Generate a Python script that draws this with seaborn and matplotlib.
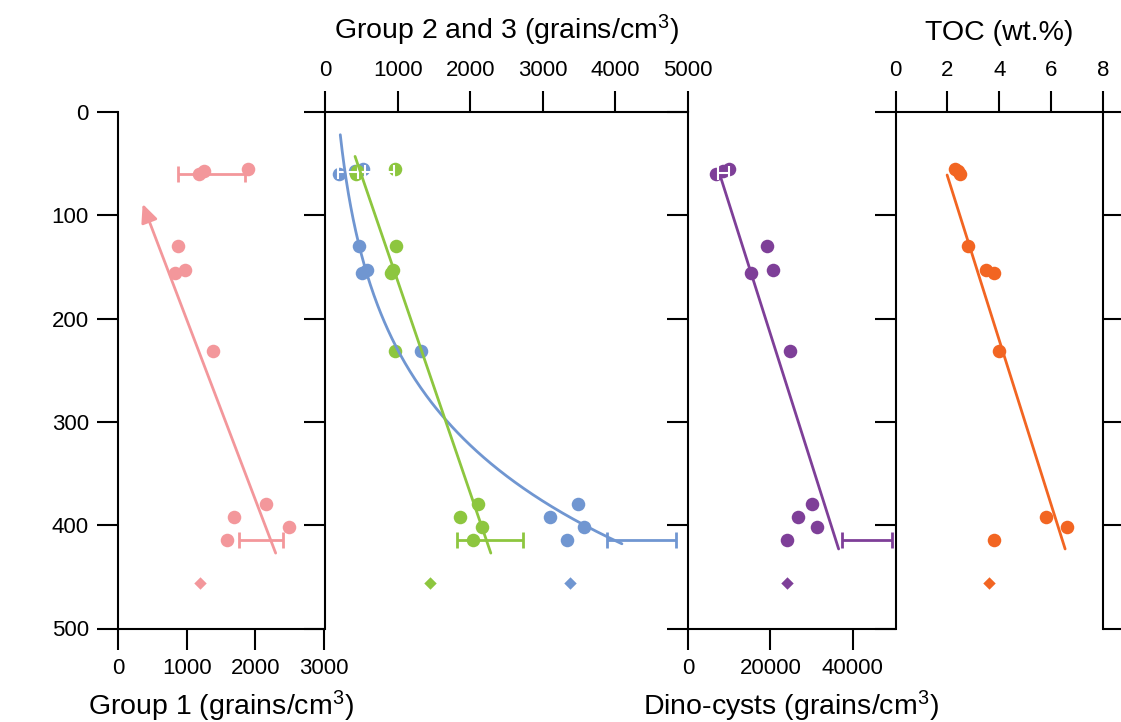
import numpy as np
import matplotlib
matplotlib.use("Agg")
import matplotlib.pyplot as plt
from matplotlib.ticker import MultipleLocator, FixedLocator
import seaborn as sns

# ---- station data (distance to the Orange River mouth, km) ----
distance_km = [55, 57, 60, 130, 153, 156, 231, 379, 392, 402, 414]
group1 = [1888, 1257, 1179, 878, 975, 830, 1378, 2150, 1689, 2490, 1592]
group2 = [519, 420, 197, 464, 574, 505, 1319, 3478, 3102, 3561, 3332]
group3 = [965, 446, 430, 974, 933, 910, 965, 2114, 1861, 2160, 2036]
dinocysts = [9927, 8571, 6707, 19056, 20678, 15351, 24867, 30194, 26634, 31332, 24068]
toc = [2.29, 2.42, 2.48, 2.80, 3.49, 3.80, 4.00, np.nan, 5.80, 6.60, 3.80]

# reference sample (diamonds)
ref_distance_km = [456]
ref_group1 = [1194]
ref_group2 = [3368]
ref_group3 = [1447]
ref_dinocysts = [24068]
ref_toc = [3.60]

# error bars: distance, mean, half-range
g1_err_dist = [60, 414]
g1_err_mean = [1363, 2087]
g1_err_half = [485, 320]
g2_err_dist = [414]
g2_err_mean = [4359]
g2_err_half = [476]
g3_err_dist = [414]
g3_err_mean = [2274]
g3_err_half = [450]
dino_err_dist = [414]
dino_err_mean = [43475]
dino_err_half = [6017]
# white brackets over the river-mouth replicates
g2_top_err = ([58], [365], [186])
g3_top_err = ([58], [700], [250])
dino_top_err = ([59], [8600], [1300])

# trend lines (concentration, distance) end points
g1_trend_x = [2296, 359]
g1_trend_d = [427, 89]
g3_trend_x = [414, 2284]
g3_trend_d = [43, 427]
dino_trend_x = [7918, 36562]
dino_trend_d = [63, 423]
toc_trend_x = [1.99, 6.54]
toc_trend_d = [61, 423]
g2_trend_d_range = [22, 418]

PINK = "#F3979B"
BLUE = "#7096D1"
GREEN = "#8DC63F"
PURPLE = "#7E3F98"
ORANGE = "#F26522"

sns.set_theme(style="white")
plt.rcParams["font.family"] = ["Liberation Sans", "DejaVu Sans"]
plt.rcParams["mathtext.fontset"] = "custom"
plt.rcParams["mathtext.rm"] = "Liberation Sans"
plt.rcParams["mathtext.it"] = "Liberation Sans:italic"
plt.rcParams["mathtext.bf"] = "Liberation Sans:bold"

W, H = 1121, 722
fig = plt.figure(figsize=(W / 100, H / 100), dpi=100)
TOP, BOT = 112, 628.5
TICK_FS = 16
LABEL_FS = 20.5


def panel(x0, x1):
    ax = fig.add_axes([x0 / W, 1 - BOT / H, (x1 - x0) / W, (BOT - TOP) / H])
    ax.set_facecolor("none")
    ax.set_ylim(500, 0)
    for s in ax.spines.values():
        s.set_visible(False)
        s.set_color("black")
        s.set_linewidth(1.5)
    ax.yaxis.set_major_locator(MultipleLocator(100))
    ax.yaxis.set_minor_locator(MultipleLocator(50))
    ax.tick_params(which="both", direction="out", width=1.5, color="black",
                   labelsize=TICK_FS, labelcolor="black")
    ax.tick_params(which="major", length=15)
    ax.tick_params(which="minor", length=8)
    ax.tick_params(axis="y", left=True, right=False, labelleft=False, labelright=False, pad=6)
    ax.spines["left"].set_visible(True)
    ax.grid(False)
    return ax


ax1 = panel(118, 324)
ax2 = panel(325, 688)
ax3 = panel(688, 894)
ax4 = panel(895.5, 1103)

MS = 95
DS = 40

# ---- Group 1 ----
ax1.set_xlim(0, 3000)
sns.scatterplot(x=group1, y=distance_km, ax=ax1, color=PINK, s=MS, linewidth=0, zorder=3)
sns.scatterplot(x=ref_group1, y=ref_distance_km, ax=ax1, color=PINK, marker="D", s=DS, linewidth=0, zorder=3)
ax1.errorbar(g1_err_mean, g1_err_dist, xerr=g1_err_half, fmt="none", ecolor=PINK,
             elinewidth=2, capsize=6, capthick=2, zorder=4)
ax1.annotate("", xy=(g1_trend_x[1], g1_trend_d[1]), xytext=(g1_trend_x[0], g1_trend_d[0]),
             arrowprops=dict(arrowstyle="-|>,head_length=1.1,head_width=0.5", color=PINK,
                             lw=2, mutation_scale=10, shrinkA=0, shrinkB=0), zorder=5)
ax1.spines["bottom"].set_visible(True)
ax1.xaxis.set_major_locator(MultipleLocator(1000))
ax1.xaxis.set_minor_locator(MultipleLocator(500))
ax1.tick_params(axis="x", bottom=True, top=False, labelbottom=True, labeltop=False, pad=6)
ax1.tick_params(axis="y", labelleft=True)
ax1.set_xlabel("Group 1 (grains/cm$^3$)", fontsize=LABEL_FS, labelpad=7, color="black")
ax1.set_ylabel("Distance to Orange River mouth (km)", fontsize=LABEL_FS, labelpad=4, color="black")

# ---- Groups 2 and 3 ----
ax2.set_xlim(0, 5000)
sns.scatterplot(x=group2, y=distance_km, ax=ax2, color=BLUE, s=MS, linewidth=0, zorder=3)
sns.scatterplot(x=group3, y=distance_km, ax=ax2, color=GREEN, s=MS, linewidth=0, zorder=3)
sns.scatterplot(x=ref_group2, y=ref_distance_km, ax=ax2, color=BLUE, marker="D", s=DS, linewidth=0, zorder=3)
sns.scatterplot(x=ref_group3, y=ref_distance_km, ax=ax2, color=GREEN, marker="D", s=DS, linewidth=0, zorder=3)
for (d, m, h) in (g2_top_err, g3_top_err):
    ax2.errorbar(m, d, xerr=h, fmt="none", ecolor="white", elinewidth=1.5, capsize=5, capthick=1.5, zorder=4)
ax2.errorbar(g2_err_mean, g2_err_dist, xerr=g2_err_half, fmt="none", ecolor=BLUE,
             elinewidth=2, capsize=6, capthick=2, zorder=4)
ax2.errorbar(g3_err_mean, g3_err_dist, xerr=g3_err_half, fmt="none", ecolor=GREEN,
             elinewidth=2, capsize=6, capthick=2, zorder=4)
# logarithmic trend of distance on Group 2 concentration (stations offshore of the mouth cluster)
g2_x = np.array(group2[3:], dtype=float)
g2_d = np.array(distance_km[3:], dtype=float)
b, a = np.polyfit(np.log(g2_x), g2_d, 1)
d_line = np.linspace(g2_trend_d_range[0], g2_trend_d_range[1], 200)
ax2.plot(np.exp((d_line - a) / b), d_line, color=BLUE, lw=2, zorder=5)
ax2.plot(g3_trend_x, g3_trend_d, color=GREEN, lw=2, zorder=5)
ax2.spines["top"].set_visible(True)
ax2.xaxis.set_major_locator(MultipleLocator(1000))
ax2.xaxis.set_minor_locator(MultipleLocator(500))
ax2.tick_params(axis="x", bottom=False, top=True, labelbottom=False, labeltop=True, pad=7)
ax2.xaxis.set_label_position("top")
ax2.set_xlabel("Group 2 and 3 (grains/cm$^3$)", fontsize=LABEL_FS, labelpad=15, color="black")
ax2.set_ylabel("")

# ---- Dino-cysts ----
ax3.set_xlim(0, 50000)
sns.scatterplot(x=dinocysts, y=distance_km, ax=ax3, color=PURPLE, s=MS, linewidth=0, zorder=3)
sns.scatterplot(x=ref_dinocysts, y=ref_distance_km, ax=ax3, color=PURPLE, marker="D", s=DS, linewidth=0, zorder=3)
ax3.errorbar(dino_top_err[1], dino_top_err[0], xerr=dino_top_err[2], fmt="none", ecolor="white",
             elinewidth=1.5, capsize=5, capthick=1.5, zorder=4)
ax3.errorbar(dino_err_mean, dino_err_dist, xerr=dino_err_half, fmt="none", ecolor=PURPLE,
             elinewidth=2, capsize=6, capthick=2, zorder=4)
ax3.plot(dino_trend_x, dino_trend_d, color=PURPLE, lw=2, zorder=5)
ax3.spines["bottom"].set_visible(True)
ax3.xaxis.set_major_locator(FixedLocator([0, 20000, 40000]))
ax3.xaxis.set_minor_locator(FixedLocator([10000, 30000, 50000]))
ax3.tick_params(axis="x", bottom=True, top=False, labelbottom=True, labeltop=False, pad=6)
ax3.set_xlabel("Dino-cysts (grains/cm$^3$)", fontsize=LABEL_FS, labelpad=7, color="black")
ax3.set_ylabel("")

# ---- TOC ----
ax4.set_xlim(0, 8)
sns.scatterplot(x=toc, y=distance_km, ax=ax4, color=ORANGE, s=MS, linewidth=0, zorder=3)
sns.scatterplot(x=ref_toc, y=ref_distance_km, ax=ax4, color=ORANGE, marker="D", s=DS, linewidth=0, zorder=3)
ax4.plot(toc_trend_x, toc_trend_d, color=ORANGE, lw=2, zorder=5)
ax4.spines["top"].set_visible(True)
ax4.spines["right"].set_visible(True)
ax4.xaxis.set_major_locator(MultipleLocator(2))
ax4.xaxis.set_minor_locator(MultipleLocator(1))
ax4.tick_params(axis="x", bottom=False, top=True, labelbottom=False, labeltop=True, pad=7)
ax4.tick_params(axis="y", right=True)
ax4.xaxis.set_label_position("top")
ax4.set_xlabel("TOC (wt.%)", fontsize=LABEL_FS, labelpad=15, color="black")
ax4.set_ylabel("")

fig.savefig("out.png", dpi=100)
